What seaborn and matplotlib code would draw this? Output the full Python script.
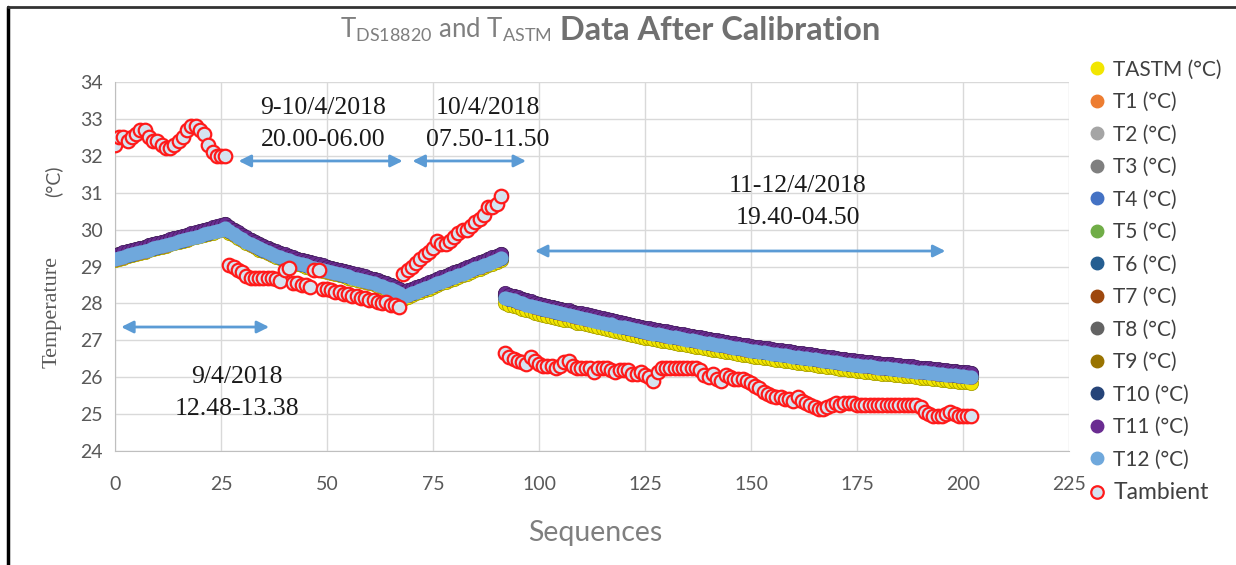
import numpy as np
import pandas as pd
import seaborn as sns
import matplotlib.pyplot as plt
from matplotlib.lines import Line2D
from matplotlib.colors import to_rgb

# Sensor band (T12, light blue, drawn on top) read per segment
band_seg1 = [29.20, 29.23, 29.26, 29.30, 29.33, 29.36, 29.39, 29.42, 29.46, 29.49,
             29.52, 29.55, 29.58, 29.62, 29.65, 29.68, 29.71, 29.74, 29.78, 29.81,
             29.84, 29.87, 29.90, 29.94, 29.97, 30.00, 30.03]
band_seg2 = [29.95, 29.88, 29.81, 29.74, 29.67, 29.61, 29.55, 29.49, 29.44, 29.39,
             29.34, 29.29, 29.25, 29.21, 29.17, 29.13, 29.09, 29.06, 29.03, 29.00,
             28.97, 28.94, 28.91, 28.88, 28.85, 28.82, 28.79, 28.76, 28.73, 28.70,
             28.67, 28.64, 28.61, 28.58, 28.55, 28.51, 28.47, 28.43, 28.38, 28.33,
             28.27]
band_seg3 = [28.18, 28.23, 28.27, 28.32, 28.36, 28.41, 28.45, 28.50, 28.54, 28.59,
             28.63, 28.68, 28.72, 28.77, 28.81, 28.86, 28.90, 28.95, 28.99, 29.04,
             29.08, 29.13, 29.17, 29.22]
band_seg4 = [28.15, 28.11, 28.08, 28.04, 28.01, 27.97, 27.94, 27.90, 27.87, 27.84,
             27.82, 27.79, 27.76, 27.74, 27.71, 27.69, 27.66, 27.63, 27.61, 27.58,
             27.56, 27.53, 27.50, 27.48, 27.45, 27.43, 27.40, 27.37, 27.35, 27.32,
             27.30, 27.27, 27.24, 27.22, 27.20, 27.18, 27.16, 27.14, 27.12, 27.10,
             27.08, 27.06, 27.04, 27.02, 27.00, 26.98, 26.96, 26.94, 26.92, 26.90,
             26.88, 26.86, 26.84, 26.82, 26.80, 26.78, 26.76, 26.74, 26.72, 26.70,
             26.69, 26.67, 26.66, 26.64, 26.62, 26.61, 26.59, 26.58, 26.56, 26.54,
             26.53, 26.51, 26.50, 26.48, 26.46, 26.45, 26.43, 26.42, 26.40, 26.38,
             26.37, 26.35, 26.34, 26.32, 26.31, 26.30, 26.29, 26.27, 26.26, 26.25,
             26.24, 26.23, 26.21, 26.20, 26.19, 26.18, 26.17, 26.15, 26.14, 26.13,
             26.12, 26.11, 26.09, 26.08, 26.07, 26.06, 26.05, 26.03, 26.02, 26.01,
             26.00]

# Ambient temperature
amb_seg1 = [32.3, 32.5, 32.5, 32.4, 32.5, 32.6, 32.7, 32.7, 32.5, 32.4,
            32.4, 32.3, 32.2, 32.2, 32.3, 32.4, 32.5, 32.7, 32.8, 32.8,
            32.7, 32.6, 32.3, 32.1, 32.0, 32.0, 32.0]
amb_seg2 = [29.05, 29.0, 28.9, 28.85, 28.75, 28.7, 28.7, 28.7, 28.7, 28.7,
            28.7, 28.65, 28.6, 28.9, 28.95, 28.55, 28.55, 28.5, 28.5, 28.45,
            28.9, 28.9, 28.4, 28.4, 28.35, 28.3, 28.3, 28.25, 28.25, 28.2,
            28.2, 28.15, 28.15, 28.1, 28.1, 28.05, 28.0, 28.05, 27.95, 27.95,
            27.9]
amb_seg3 = [28.8, 28.9, 29.0, 29.1, 29.2, 29.3, 29.4, 29.5, 29.7, 29.6,
            29.6, 29.7, 29.8, 29.9, 30.0, 30.0, 30.1, 30.2, 30.3, 30.4,
            30.6, 30.6, 30.7, 30.9]
amb_seg4 = [26.65, 26.55, 26.5, 26.45, 26.4, 26.35, 26.55, 26.45, 26.35, 26.3,
            26.3, 26.3, 26.25, 26.3, 26.4, 26.45, 26.3, 26.25, 26.25, 26.25,
            26.25, 26.15, 26.25, 26.25, 26.25, 26.2, 26.15, 26.2, 26.2, 26.2,
            26.1, 26.1, 26.15, 26.05, 26.0, 25.9, 26.15, 26.25, 26.25, 26.25,
            26.25, 26.25, 26.25, 26.25, 26.25, 26.25, 26.2, 26.05, 26.0, 26.1,
            25.95, 25.9, 26.05, 26.0, 25.95, 25.95, 25.95, 25.9, 25.85, 25.75,
            25.7, 25.6, 25.55, 25.5, 25.45, 25.45, 25.4, 25.4, 25.35, 25.45,
            25.35, 25.3, 25.25, 25.2, 25.15, 25.15, 25.2, 25.25, 25.3, 25.25,
            25.3, 25.3, 25.3, 25.25, 25.25, 25.25, 25.25, 25.25, 25.25, 25.25,
            25.25, 25.25, 25.25, 25.25, 25.25, 25.25, 25.25, 25.25, 25.2, 25.05,
            25.0, 24.95, 24.95, 24.95, 25.0, 25.05, 25.0, 24.95, 24.95, 24.95,
            24.95]

series_names = ["TASTM (°C)", "T1 (°C)", "T2 (°C)", "T3 (°C)", "T4 (°C)", "T5 (°C)",
                "T6 (°C)", "T7 (°C)", "T8 (°C)", "T9 (°C)", "T10 (°C)", "T11 (°C)",
                "T12 (°C)"]
# offset of each sensor from the T12 band
sensor_offsets = [0.0, 0.01, 0.03, 0.07, 0.02, 0.10, 0.05, 0.04, 0.11, 0.06, 0.08, 0.12, 0.0]
# TASTM offset from the band for each of the four runs (only visible below it in the last run)
tastm_offsets = [-0.02, -0.03, -0.05, -0.15]
series_colors = ["#f2e600", "#ed7d31", "#a5a5a5", "#7f7f7f", "#4472c4", "#70ad47",
                 "#255e91", "#9e480e", "#636363", "#997300", "#264478", "#6a2c91",
                 "#6fa8dc"]

seg_lens = [len(band_seg1), len(band_seg2), len(band_seg3), len(band_seg4)]
band = np.array(band_seg1 + band_seg2 + band_seg3 + band_seg4)
ambient = np.array(amb_seg1 + amb_seg2 + amb_seg3 + amb_seg4)
seq = np.arange(len(band))
tastm_shift = np.repeat(tastm_offsets, seg_lens)

frames = []
for name, off in zip(series_names, sensor_offsets):
    vals = band + off
    if name.startswith("TASTM"):
        vals = band + tastm_shift
    frames.append(pd.DataFrame({"seq": seq, "temp": vals, "series": name}))
df = pd.concat(frames, ignore_index=True)

sns.set_style("white")
plt.rcParams['font.family'] = ['Lato', 'DejaVu Sans']

fig = plt.figure(figsize=(12.36, 5.65), dpi=100)
ax = fig.add_axes([115 / 1236, 1 - 451 / 565, (1069 - 115) / 1236, (451 - 82) / 565])

for name, col in zip(series_names, series_colors):
    sub = df[df["series"] == name]
    if name.startswith("T12"):
        sns.scatterplot(data=sub, x="seq", y="temp", s=105, color=col, linewidth=0,
                        legend=False, ax=ax, zorder=3)
    else:
        edge = tuple(c * 0.7 for c in to_rgb(col))
        sns.scatterplot(data=sub, x="seq", y="temp", s=105, color=col, edgecolor=edge,
                        linewidth=0.6, legend=False, ax=ax, zorder=3)
sns.scatterplot(x=seq, y=ambient, s=95, color="#d5e3f0", edgecolor="#ff1a1a",
                linewidth=1.6, ax=ax, zorder=4)

ax.set_xlim(0, 225)
ax.set_ylim(24, 34)
ax.set_xticks(np.arange(0, 226, 25))
ax.set_yticks(np.arange(24, 35, 1))
ax.grid(True, color="#d9d9d9", linewidth=1)
ax.set_axisbelow(True)
for s in ["top", "right"]:
    ax.spines[s].set_visible(False)
for s in ["left", "bottom"]:
    ax.spines[s].set_color("#bfbfbf")
ax.tick_params(length=0, labelsize=14, labelcolor="#595959")
ax.tick_params(axis="x", pad=18)
ax.tick_params(axis="y", pad=9)
ax.set_xlabel("")
ax.set_ylabel("")

# double-headed arrows and period labels
arrow_kw = dict(arrowstyle="<|-|>", color="#5b9bd5", lw=2, mutation_scale=18)
arrows = [((0.8, 27.36), (37.0, 27.36)), ((28.5, 31.86), (68.5, 31.86)),
          ((69.5, 31.86), (97.6, 31.86)), ((98.4, 29.42), (196.5, 29.42))]
for (x0, y0), (x1, y1) in arrows:
    ax.annotate("", xy=(x1, y1), xytext=(x0, y0), arrowprops=arrow_kw, zorder=5)

labels = [(28.8, 25.58, "9/4/2018\n12.48-13.38"), (49.0, 32.87, "9-10/4/2018\n20.00-06.00"),
          (88.0, 32.87, "10/4/2018\n07.50-11.50"), (161.0, 30.74, "11-12/4/2018\n19.40-04.50")]
for x, y, t in labels:
    ax.text(x, y, t, ha="center", va="center", family="Liberation Serif", fontsize=18.5,
            color="#1a1a1a", linespacing=1.6, zorder=6)

# title
t1 = fig.text(340 / 1236, 1 - 38 / 565, r"T$_{\mathregular{DS18820}}$ and T$_{\mathregular{ASTM}}$",
              fontsize=18.5, color="#7f7f7f", va="baseline")
ax.annotate(" Data After Calibration", xy=(1, 0), xycoords=t1, va="bottom",
            fontsize=23.5, fontweight="bold", color="#707070", annotation_clip=False)

fig.text(595 / 1236, 1 - 533 / 565, "Sequences", ha="center", va="center", fontsize=20.5, color="#7f7f7f")
fig.text(52 / 1236, 1 - 312 / 565, "Temperature", rotation=90, ha="center", va="center",
         family="Liberation Serif", fontsize=16, color="#595959")
fig.text(53 / 1236, 1 - 181 / 565, "(°C)", rotation=90, ha="center", va="center",
         fontsize=14, color="#595959")

# legend
handles = [Line2D([], [], marker="o", linestyle="", markersize=9, markerfacecolor=c,
                  markeredgecolor=c) for c in series_colors]
handles.append(Line2D([], [], marker="o", linestyle="", markersize=9, markerfacecolor="#d5e3f0",
                      markeredgecolor="#ff1a1a", markeredgewidth=1.6))
leg = fig.legend(handles, series_names + ["Tambient"], loc="upper left",
                 bbox_to_anchor=(1078 / 1236, 1 - 49 / 565), frameon=False, fontsize=15,
                 labelspacing=0.6, handlelength=0.8, handletextpad=0.4, borderpad=0)
for txt in leg.get_texts():
    txt.set_color("#404040")
leg.get_texts()[-1].set_fontsize(16.5)

# outer frame (left and top edges)
fig.add_artist(Line2D([8 / 1236, 8 / 1236], [0, 1 - 7 / 565], color="black", lw=2.5))
fig.add_artist(Line2D([8 / 1236, 1], [1 - 7 / 565, 1 - 7 / 565], color="#333333", lw=2))

fig.savefig("out.png", dpi=100)
